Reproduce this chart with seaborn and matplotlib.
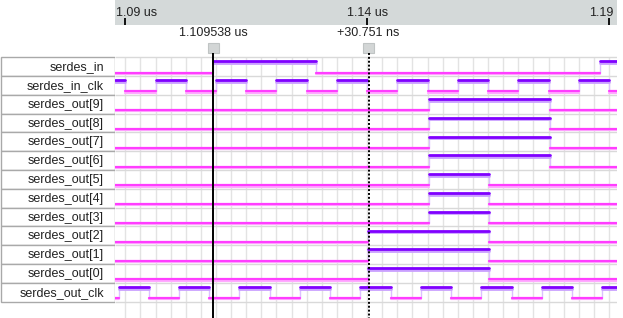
import numpy as np
import pandas as pd
import seaborn as sns
import matplotlib.pyplot as plt
import matplotlib.patheffects as pe
from matplotlib.patches import Rectangle

sns.set_style("white")
plt.rcParams['font.family'] = ['Liberation Sans', 'DejaVu Sans']

# signal names, top to bottom
names = ["serdes_in", "serdes_in_clk",
         "serdes_out[9]", "serdes_out[8]", "serdes_out[7]", "serdes_out[6]",
         "serdes_out[5]", "serdes_out[4]", "serdes_out[3]",
         "serdes_out[2]", "serdes_out[1]", "serdes_out[0]",
         "serdes_out_clk"]
# level at the left edge of the view
initial = [0, 1, 0, 0, 0, 0, 0, 0, 0, 0, 0, 0, 0]
# toggle times (ns)
in_clk_edges = [1090.0, 1096.25, 1102.5, 1108.75, 1115.0, 1121.25, 1127.5, 1133.75,
                1140.0, 1146.25, 1152.5, 1158.75, 1165.0, 1171.25, 1177.5, 1183.75, 1190.0]
out_clk_edges = [1088.6, 1094.85, 1101.1, 1107.35, 1113.6, 1119.85, 1126.1, 1132.35,
                 1138.6, 1144.85, 1151.1, 1157.35, 1163.6, 1169.85, 1176.1, 1182.35, 1188.6]
serdes_in_edges = [1108.2, 1129.4, 1188.2]
out_hi_edges = [1152.7, 1177.7]   # bits 9..6
out_mid_edges = [1152.7, 1165.2]  # bits 5..3
out_lo_edges = [1140.2, 1165.2]   # bits 2..0
toggles = [serdes_in_edges, in_clk_edges,
           out_hi_edges, out_hi_edges, out_hi_edges, out_hi_edges,
           out_mid_edges, out_mid_edges, out_mid_edges,
           out_lo_edges, out_lo_edges, out_lo_edges,
           out_clk_edges]

t_start, t_end = 1087.87, 1191.55
cursor_a, cursor_b = 1108.2, 1140.3
cursor_labels = ["1.109538 us", "+30.751 ns"]
ticks = [1090, 1140, 1190]
tick_labels = ["1.09 us", "1.14 us", "1.19"]

HI, LO = 0.22, 0.81

recs = []
trans = []
for i, (lv0, tg) in enumerate(zip(initial, toggles)):
    edges = [t_start] + tg + [t_end]
    lv = lv0
    for k in range(len(edges) - 1):
        y = i + (HI if lv else LO)
        for t in (edges[k], edges[k + 1]):
            recs.append(dict(t=t, y=y, seg=f"{i}-{k}", level="high" if lv else "low"))
        lv = 1 - lv
    for t in tg:
        trans.append((t, i + HI, i + LO))
df = pd.DataFrame(recs)

fig = plt.figure(figsize=(6.23, 3.18), dpi=100)
W, H = 623, 318
x0, x1 = 115, 616.5
ax = fig.add_axes([x0 / W, 0, (x1 - x0) / W, (H - 25) / H])

# grid
ax.vlines(np.arange(1090, t_end, 3.125), 0, 13.867, color="#e3e3e3", lw=1, zorder=0)
ax.hlines(np.arange(0, 14), t_start, t_end, color="#d9d9d9", lw=1, zorder=0)

# transitions
tt = np.array(trans)
ax.vlines(tt[:, 0], tt[:, 1], tt[:, 2], color="#dcc0ff", lw=1, zorder=1)

sns.lineplot(data=df[df.level == "low"], x="t", y="y", units="seg", estimator=None,
             sort=False, color="#ff3dff", lw=1.6, ax=ax, zorder=2,
             path_effects=[pe.SimpleLineShadow(offset=(0, -0.9), shadow_color="#ffaaff", alpha=1),
                           pe.Normal()])
sns.lineplot(data=df[df.level == "high"], x="t", y="y", units="seg", estimator=None,
             sort=False, color="#8000ff", lw=2.0, ax=ax, zorder=3,
             path_effects=[pe.SimpleLineShadow(offset=(0, -1.1), shadow_color="#caa0ff", alpha=1),
                           pe.Normal()])
ax.set_xlim(t_start, t_end)
ax.set_ylim(13.867, -1.718)
ax.axis("off")

# cursors
ax.vlines(cursor_a, -0.23, 13.867, color="black", lw=1.4, zorder=5)
ax.vlines(cursor_b, -0.23, 13.867, color="black", lw=1.4, linestyles=(0, (1, 1)), zorder=5)
for c, lab in zip([cursor_a, cursor_b], cursor_labels):
    ax.add_patch(Rectangle((c - 1.15, -0.76), 2.3, 0.53, facecolor="#d3d6d6",
                           edgecolor="#c0c4c4", lw=0.8, zorder=4))
    ax.text(c, -1.29, lab, ha="center", va="center", fontsize=9, color="#222222")

# header
hx = fig.add_axes([x0 / W, (H - 25) / H, (x1 - x0) / W, 25 / H], sharex=ax)
hx.set_facecolor("#d4d9d9")
for s in hx.spines.values():
    s.set_visible(False)
hx.set_yticks([])
hx.set_xticks(ticks)
hx.tick_params(axis="x", direction="in", length=5, width=1.3, color="black",
               labelbottom=False, bottom=True)
tr = hx.get_xaxis_transform()
for k, (t, lab) in enumerate(zip(ticks, tick_labels)):
    if k == 0:
        hx.text(t_start + 0.3, 0.48, lab, transform=tr, ha="left", va="center",
                fontsize=9, color="#222222")
    elif k == len(ticks) - 1:
        hx.text(t + 0.95, 0.48, lab, transform=tr, ha="right", va="center",
                fontsize=9, color="#222222")
    else:
        hx.text(t, 0.48, lab, transform=tr, ha="center", va="center",
                fontsize=9, color="#222222")

# signal name column
lx = fig.add_axes([0, 0, x0 / W, (H - 25) / H])
lx.set_xlim(0, x0)
lx.set_ylim(13.867, -1.718)
lx.axis("off")
for i, name in enumerate(names):
    lx.add_patch(Rectangle((0.5, i), x0 - 0.5, 1, facecolor="white",
                           edgecolor="#a9a9a9", lw=1))
    lx.text(104, i + 0.53, name, ha="right", va="center", fontsize=9, color="#222222")

fig.savefig("out.png", dpi=100)
